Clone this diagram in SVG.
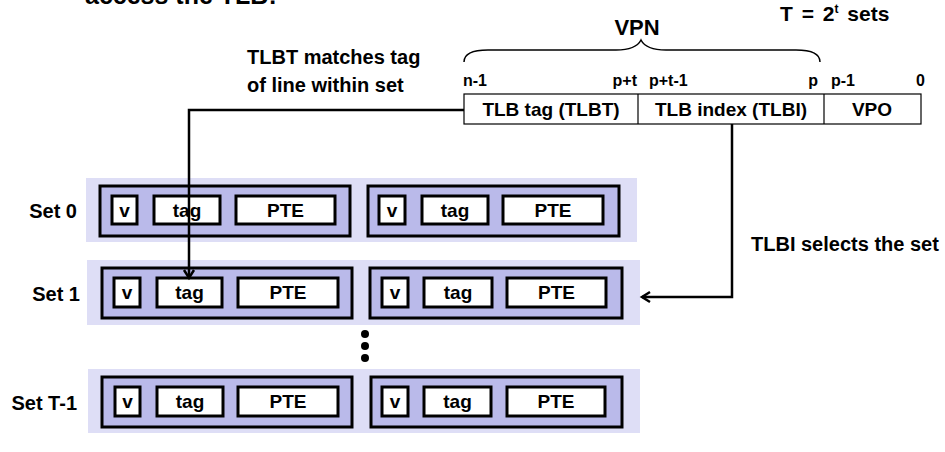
<svg xmlns="http://www.w3.org/2000/svg" width="945" height="452" viewBox="0 0 945 452">
<defs>
<style>
text{font-family:"Liberation Sans",Arial,sans-serif;font-weight:bold;fill:#000}
.bg{fill:#dedef6}
.line{fill:#babaea;stroke:#000;stroke-width:3}
.cell{fill:#fff;stroke:#000;stroke-width:3}
.ct{font-size:19px;text-anchor:middle}
.sl{font-size:20px;text-anchor:end}
.lbl{font-size:20px}
.bit{font-size:16px}
.addr{fill:#fff;stroke:#000;stroke-width:1.2}
.at{font-size:19px;text-anchor:middle}
.conn{fill:none;stroke:#000;stroke-width:2.5}
</style>
<marker id="arr" markerUnits="userSpaceOnUse" markerWidth="14" markerHeight="14" refX="11" refY="7" orient="auto" viewBox="0 0 14 14">
<path d="M3,2 L11,7 L3,12" fill="none" stroke="#000" stroke-width="2.5"/>
</marker>
</defs>

<text x="85" y="4" style="font-size:25px">access the TLB:</text>
<text id="tsets" x="780" y="21" style="font-size:21px;word-spacing:3px">T = 2<tspan dy="-8" style="font-size:12px">t</tspan><tspan dy="8"> sets</tspan></text>
<text x="637" y="35" style="font-size:22px;text-anchor:middle">VPN</text>
<path d="M464,62 Q464,50 488,50 L616,50 Q636,50 641,40 Q646,50 666,50 L796,50 Q820,50 820,62" fill="none" stroke="#000" stroke-width="1.5"/>
<text x="247" y="64" class="lbl">TLBT matches tag</text>
<text x="247" y="92" class="lbl">of line within set</text>
<text x="751" y="251" class="lbl">TLBI selects the set</text>

<g id="vaddr">
<rect x="464" y="94" width="457" height="30" class="addr"/>
<line x1="638" y1="94" x2="638" y2="124" stroke="#000" stroke-width="1.2"/>
<line x1="824" y1="94" x2="824" y2="124" stroke="#000" stroke-width="1.2"/>
<text x="551" y="116" class="at">TLB tag (TLBT)</text>
<text x="731" y="116" class="at">TLB index (TLBI)</text>
<text x="872" y="116" class="at">VPO</text>
<text x="463" y="86" class="bit">n-1</text>
<text x="637" y="86" class="bit" text-anchor="end">p+t</text>
<text x="649" y="86" class="bit">p+t-1</text>
<text x="818" y="86" class="bit" text-anchor="end">p</text>
<text x="831" y="86" class="bit">p-1</text>
<text x="925" y="86" class="bit" text-anchor="end">0</text>
</g>

<g id="set0">
<rect x="86" y="178" width="551" height="64" class="bg"/>
<text x="77" y="218" class="sl">Set 0</text>
<rect x="100" y="186" width="250" height="50" class="line"/>
<rect x="112" y="196" width="25" height="28" class="cell"/>
<rect x="154" y="196" width="66" height="28" class="cell"/>
<rect x="236" y="196" width="99" height="28" class="cell"/>
<text x="124.5" y="217" class="ct">v</text>
<text x="187" y="217" class="ct">tag</text>
<text x="285.5" y="217" class="ct">PTE</text>
<rect x="368" y="186" width="251" height="50" class="line"/>
<rect x="379" y="196" width="26" height="28" class="cell"/>
<rect x="422" y="196" width="66" height="28" class="cell"/>
<rect x="503" y="196" width="100" height="28" class="cell"/>
<text x="392" y="217" class="ct">v</text>
<text x="455" y="217" class="ct">tag</text>
<text x="553" y="217" class="ct">PTE</text>
</g>

<g id="set1">
<rect x="87" y="260" width="553" height="65" class="bg"/>
<text x="80" y="301" class="sl">Set 1</text>
<rect x="102" y="268" width="250" height="50" class="line"/>
<rect x="114" y="278" width="26" height="29" class="cell"/>
<rect x="157" y="278" width="65" height="29" class="cell"/>
<rect x="238" y="278" width="100" height="29" class="cell"/>
<text x="127" y="299" class="ct">v</text>
<text x="189.5" y="299" class="ct">tag</text>
<text x="288" y="299" class="ct">PTE</text>
<rect x="370" y="268" width="252" height="50" class="line"/>
<rect x="382" y="278" width="26" height="29" class="cell"/>
<rect x="424" y="278" width="68" height="29" class="cell"/>
<rect x="507" y="278" width="99" height="29" class="cell"/>
<text x="395" y="299" class="ct">v</text>
<text x="458" y="299" class="ct">tag</text>
<text x="556.5" y="299" class="ct">PTE</text>
</g>

<g id="dots">
<circle cx="365" cy="334" r="4"/>
<circle cx="365" cy="346" r="4"/>
<circle cx="365" cy="358" r="4"/>
</g>

<g id="setT1">
<rect x="88" y="369" width="552" height="64" class="bg"/>
<text x="77" y="410" class="sl">Set T-1</text>
<rect x="102" y="377" width="250" height="50" class="line"/>
<rect x="115" y="387" width="25" height="29" class="cell"/>
<rect x="157" y="387" width="66" height="29" class="cell"/>
<rect x="238" y="387" width="100" height="29" class="cell"/>
<text x="127.5" y="408" class="ct">v</text>
<text x="190" y="408" class="ct">tag</text>
<text x="288" y="408" class="ct">PTE</text>
<rect x="371" y="377" width="251" height="50" class="line"/>
<rect x="382" y="387" width="26" height="29" class="cell"/>
<rect x="424" y="387" width="67" height="29" class="cell"/>
<rect x="507" y="387" width="98" height="29" class="cell"/>
<text x="395" y="408" class="ct">v</text>
<text x="457.5" y="408" class="ct">tag</text>
<text x="556" y="408" class="ct">PTE</text>
</g>

<g id="connectors">
<path d="M464,110 H189 V278" class="conn" marker-end="url(#arr)"/>
<path d="M732,124 V297 H642" class="conn" marker-end="url(#arr)"/>
</g>
</svg>
